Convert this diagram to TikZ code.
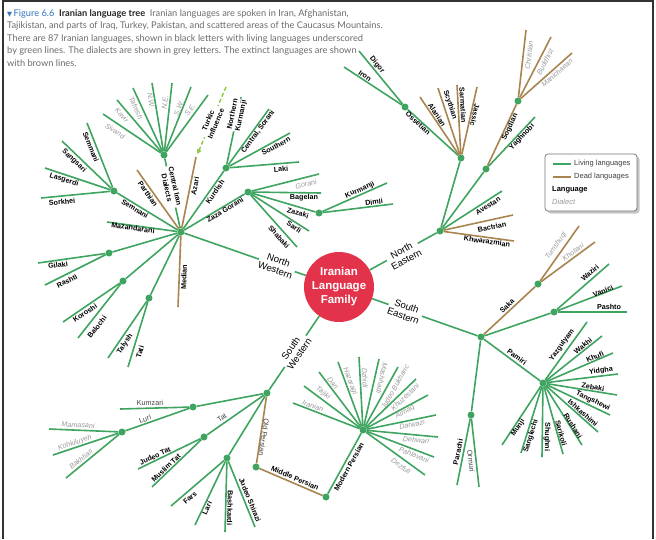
\documentclass[tikz,border=0pt]{standalone}
\usepackage{fontspec}
\setmainfont{Liberation Sans}
\newfontfamily\capfont{Lato}
\newfontfamily\symfont{DejaVu Sans}
\usetikzlibrary{calc,arrows.meta}
\definecolor{lgreen}{HTML}{3FA45F}
\definecolor{dbrown}{HTML}{A8844F}
\definecolor{irred}{HTML}{E3334B}
\definecolor{tkgreen}{HTML}{8DC63F}
\definecolor{dialgrey}{HTML}{9A9A9A}
\definecolor{capgrey}{HTML}{6B6B6B}
\definecolor{capblue}{HTML}{3474B8}
\newcommand\lbl[5]{\path let \p1=($(#3)-(#2)$), \n1={atan2(\y1,\x1)}, \n2={ifthenelse(\n1>90,\n1-180,ifthenelse(\n1<-90,\n1+180,\n1))} in node[#1,rotate=\n2] (L#3) at (#4) {#5};}
\newcommand\leaf[7]{\coordinate (#3) at (#4); \draw[#1] (#2) -- (#3); \lbl{#6}{#2}{#3}{#5}{#7}}
\begin{document}
\begin{tikzpicture}[x=1pt,y=-1pt,
 live/.style={draw=lgreen,line width=1.6pt},
 dead/.style={draw=dbrown,line width=1.6pt},
 hub/.style={circle,fill=lgreen,inner sep=0pt,minimum size=7pt},
 lang/.style={font=\fontsize{7.2}{8.4}\selectfont\bfseries,text=black,inner sep=0.6pt,align=center},
 dial/.style={font=\fontsize{7.2}{8.4}\selectfont\itshape,text=dialgrey,inner sep=0.6pt},
 semi/.style={font=\fontsize{7.2}{8.4}\selectfont,text=black!75,inner sep=0.6pt},
 onl/.style={fill=white,inner sep=1pt},
 mainlbl/.style={font=\fontsize{9.6}{10.4}\selectfont,fill=white,inner sep=1pt,align=center},
 turnover/.style={rotate=180},
 legtxt/.style={font=\fontsize{7.5}{8.4}\selectfont,text=black!75,anchor=west,inner sep=0pt}]
\useasboundingbox (0,0) rectangle (656,539);
\draw[black!80,line width=1.4pt] (3,539) -- (3,1) -- (653,1) -- (653,539);
% caption
\node[anchor=north west,inner sep=0pt,align=left,text=capgrey,font=\capfont\fontsize{9.25}{12.4}\selectfont] (caption) at (7,9.5) {%
{\color{capblue}{\symfont\fontsize{6.5}{6.5}\selectfont ▼}\,Figure 6.6}\enspace{\bfseries\color{black!85}Iranian language tree}\enspace Iranian languages are spoken in Iran, Afghanistan,\\
Tajikistan, and parts of Iraq, Turkey, Pakistan, and scattered areas of the Caucasus Mountains.\\
There are 87 Iranian languages, shown in black letters with living languages underscored\\
by green lines. The dialects are shown in grey letters. The extinct languages are shown\\
with brown lines.};
% centre
\node[circle,fill=irred,minimum size=70pt,inner sep=0pt,text=white,align=center,font=\fontsize{11.5}{14}\selectfont\bfseries] (fam) at (339,287) {Iranian\\Language\\Family};
% hubs
\node[hub] (NW) at (181,232) {};
\node[hub] (CID) at (164,155) {};
\node[hub] (SEM) at (114,191) {};
\node[hub] (KUR) at (226,168) {};
\node[hub] (ZG) at (248,192) {};
\node[hub] (ZAZ) at (319,213) {};
\node[hub] (GIL) at (109,253) {};
\node[hub] (KOR) at (123,281) {};
\node[hub] (TAL) at (149,298) {};
\node[hub] (NE) at (440,231) {};
\node[hub] (OSH) at (461,158) {};
\node[hub] (OSS) at (405,107) {};
\node[hub] (YAG) at (486,169) {};
\node[hub] (SOG) at (518,101) {};
\node[hub] (SE) at (481,337) {};
\node[hub] (SAK) at (538,284) {};
\node[hub] (PAS) at (554,312) {};
\node[hub] (PAM) at (543,383) {};
\node[hub] (PAR) at (471,415) {};
\node[hub] (SW) at (267,393) {};
\node[hub] (KUM) at (193,407) {};
\node[hub] (LUR) at (122,432) {};
\node[hub] (TAT) at (204,437) {};
\node[hub] (FAR) at (227,458) {};
\node[hub] (MID) at (256,467) {};
\node[hub] (MOD) at (326,497) {};
\node[hub] (MPH) at (363,430) {};
% main branches
\draw[live] (fam) -- (NW); \lbl{mainlbl}{fam}{NW}{277,265}{North\\Western}
\draw[live] (fam) -- (NE); \lbl{mainlbl}{fam}{NE}{404,255}{North\\Eastern}
\draw[live] (fam) -- (SE); \lbl{mainlbl}{fam}{SE}{405,311}{South\\Eastern}
\draw[live] (fam) -- (SW); \lbl{mainlbl}{fam}{SW}{295,351}{South\\Western}
% ---------- North Western
\draw[live] (NW) -- (CID); \lbl{lang,onl}{NW}{CID}{171,187}{Central Iran\\Dialects}
\draw[live] (NW) -- (SEM); \lbl{lang}{NW}{SEM}{135,209}{Semnani}
\leaf{dead}{NW}{parth}{137,170}{148,194}{lang}{Parthian}
\leaf{dead}{NW}{azari}{196,157}{195,186}{lang}{Azari}
\draw[live] (NW) -- (KUR); \lbl{lang}{NW}{KUR}{215,192}{Kurdish}
\draw[live] (NW) -- (ZG); \lbl{lang}{NW}{ZG}{225,210}{Zaza Gorani}
\leaf{live}{NW}{maz}{107,222}{133,228}{lang}{Mazandarani}
\draw[live] (NW) -- (GIL);
\draw[live] (NW) -- (KOR);
\draw[live] (NW) -- (TAL);
\leaf{dead}{NW}{median}{178,307}{184,277}{lang}{Median}
\coordinate (tka) at (226,87);
\coordinate (tkb) at (197.5,154);
\draw[tkgreen,line width=1.4pt,dash pattern=on 4pt off 2.5pt,-{Triangle[length=4.5pt,width=4.5pt]}] (tka) -- (tkb);
\lbl{lang,onl}{tka}{tkb}{212,122}{Turkic\\Influence}
% central iran dialects
\leaf{live}{CID}{sivand}{103,114}{115,131}{dial}{Sivand}
\leaf{live}{CID}{kavir}{117,100}{122,115}{dial}{Kavir}
\leaf{live}{CID}{tafresh}{133,88}{136,108}{dial}{Tafresh}
\leaf{live}{CID}{dnw}{152,83}{151,101}{dial}{N.W.}
\leaf{live}{CID}{dne}{172,83}{165,102}{dial}{N.E.}
\leaf{live}{CID}{dsw}{191,87}{179,108}{dial}{S.W.}
\leaf{live}{CID}{dse}{208,95}{190,110}{dial}{S.E.}
% semnani
\leaf{live}{SEM}{sorkhei}{41,198}{62,202}{lang}{Sorkhei}
\leaf{live}{SEM}{lasgerdi}{45,168}{64,180}{lang}{Lasgerdi}
\leaf{live}{SEM}{sangsari}{62,141}{74,161}{lang}{Sangsari}
\leaf{live}{SEM}{semmani}{87,123}{91,147}{lang}{Semmani}
% kurdish
\leaf{live}{KUR}{nkur}{241,97}{237,115}{lang,onl}{Northern\\Kurmanji}
\leaf{live}{KUR}{csor}{269,109}{258,132}{lang}{Central, Sorani}
\leaf{live}{KUR}{south}{290,133}{276,146}{lang}{Southern}
\leaf{live}{KUR}{laki}{299,162}{281,169}{lang}{Laki}
% zaza gorani
\leaf{live}{ZG}{gorani}{319,174}{306,184}{dial}{Gorani}
\leaf{live}{ZG}{bagelan}{321,193}{304,198}{lang}{Bagelan}
\draw[live] (ZG) -- (ZAZ); \lbl{lang}{ZG}{ZAZ}{298,213}{Zazaki}
\leaf{live}{ZG}{sarli}{309,231}{294,227}{lang}{Sarli}
\leaf{live}{ZG}{shabaki}{297,247}{279,237}{lang}{Shabaki}
\leaf{live}{ZAZ}{kurm}{387,183}{360,190}{lang}{Kurmanji}
\leaf{live}{ZAZ}{dimli}{393,204}{374,202}{lang}{Dimli}
% caspian etc
\leaf{live}{GIL}{gilaki}{38,263}{58,265}{lang}{Gilaki}
\leaf{live}{GIL}{rashti}{45,285}{67,281}{lang}{Rashti}
\leaf{live}{KOR}{koroshi}{63,322}{85,313}{lang}{Koroshi}
\leaf{live}{KOR}{balochi}{78,338}{97,327}{lang}{Balochi}
\leaf{live}{TAL}{talysh}{108,358}{125,344}{lang}{Talysh}
\leaf{live}{TAL}{tati}{128,367}{140,352}{lang}{Tati}
% ---------- North Eastern
\draw[live] (NE) -- (OSH);
\draw[live] (OSH) -- (OSS); \lbl{lang}{OSH}{OSS}{418,123}{Ossetian}
\leaf{live}{OSS}{digor}{359,51}{377,65}{lang}{Digor}
\leaf{live}{OSS}{iron}{344,67}{365,76}{lang}{Iron}
\leaf{dead}{OSH}{alanian}{420,97}{437,115}{lang}{Alanian}
\leaf{dead}{OSH}{scythian}{438,88}{450,105}{lang}{Scythian}
\leaf{dead}{OSH}{sarmatian}{457,85}{463,105}{lang}{Sarmatian}
\leaf{dead}{OSH}{jassic}{477,87}{475,115}{lang,turnover}{Jassic}
\draw[live] (NE) -- (YAG);
\leaf{live}{YAG}{yaghnobi}{535,117}{522,137}{lang}{Yaghnobi}
\draw[dead] (YAG) -- (SOG); \lbl{lang}{YAG}{SOG}{510,127}{Sogdian}
\leaf{dead}{SOG}{christian}{526,30}{529,55}{dial}{Christian}
\leaf{dead}{SOG}{buddhist}{551,37}{545,62}{dial}{Buddhist}
\leaf{dead}{SOG}{manich}{572,53}{557,73}{dial}{Manichaean}
\leaf{live}{NE}{avestan}{502,191}{488,206}{lang}{Avestan}
\leaf{dead}{NE}{bactrian}{513,215}{492,227}{lang}{Bactrian}
\leaf{dead}{NE}{khwar}{514,241}{487,241.5}{lang}{Khwarazmian}
% ---------- South Eastern
\draw[dead] (SE) -- (SAK); \lbl{lang}{SE}{SAK}{507,306}{Saka}
\leaf{dead}{SAK}{tumshuqi}{579,226}{556,246}{dial}{Tumshuqi}
\leaf{dead}{SAK}{khotani}{595,242}{573,252}{dial}{Khotani}
\draw[live] (SE) -- (PAS);
\leaf{live}{PAS}{waziri}{609,264}{590,273}{lang}{Waziri}
\leaf{live}{PAS}{vanici}{622,286}{603,291}{lang}{Vanici}
\leaf{live}{PAS}{pashto}{627,312}{609,307}{lang}{Pashto}
\draw[live] (SE) -- (PAM); \lbl{lang}{SE}{PAM}{517,357}{Pamiri}
\leaf{live}{PAM}{yazg}{587,322}{562,345}{lang}{Yazgulyam}
\leaf{live}{PAM}{wakhi}{602,336}{583,346}{lang}{Wakhi}
\leaf{live}{PAM}{khufi}{613,353}{595,357}{lang}{Khufi}
\leaf{live}{PAM}{yidgha}{618,374}{601,371}{lang}{Yidgha}
\leaf{live}{PAM}{zebaki}{617,395}{593,387}{lang}{Zebaki}
\leaf{live}{PAM}{tangshewi}{610,415}{593,401}{lang}{Tangshewi}
\leaf{live}{PAM}{ishk}{598,432}{583,413}{lang}{Ishkashimi}
\leaf{live}{PAM}{rushani}{582,445}{573,426}{lang}{Rushani}
\leaf{live}{PAM}{sarikoli}{563,454}{561,433}{lang}{Sarikoli}
\leaf{live}{PAM}{shughni}{542,457}{547,437}{lang,turnover}{Shughni}
\leaf{live}{PAM}{sanglechi}{521,453}{531,436}{lang}{Sanglechi}
\leaf{live}{PAM}{munji}{502,445}{518,428}{lang}{Munji}
\draw[live] (SE) -- (PAR);
\leaf{live}{PAR}{parachi}{457,485}{458,452}{lang}{Parachi}
\leaf{live}{PAR}{ormuri}{479,487}{471,461}{semi}{Ormuri}
% ---------- South Western
\draw[live] (SW) -- (KUM);
\leaf{live}{KUM}{kumzari}{120,409}{150,403}{semi}{Kumzari}
\draw[live] (KUM) -- (LUR); \lbl{semi}{KUM}{LUR}{145,419}{Luri}
\leaf{live}{LUR}{mamasani}{49,429}{78,425}{dial}{Mamasani}
\leaf{live}{LUR}{kohk}{53,455}{75,443}{dial}{Kohkiluyeh}
\leaf{live}{LUR}{bakht}{66,478}{81,459}{dial}{Bakhtiari}
\draw[live] (SW) -- (TAT); \lbl{semi}{SW}{TAT}{222,418}{Tat}
\leaf{live}{TAT}{jtat}{138,469}{155,456}{lang}{Judeo Tat}
\leaf{live}{TAT}{mtat}{152,487}{166,468}{lang}{Muslim Tat}
\draw[live] (SW) -- (FAR);
\leaf{live}{FAR}{fars}{171,506}{190,498}{lang}{Fars}
\leaf{live}{FAR}{lari}{195,525}{207,508}{lang}{Lari}
\leaf{live}{FAR}{bashk}{225,532}{230,508}{lang,turnover}{Bashkardi}
\leaf{live}{FAR}{jshir}{255,527}{250,500}{lang}{Judeo Shirazi}
\draw[dead] (SW) -- (MID); \lbl{semi,turnover}{SW}{MID}{264,437}{Old Persian}
\draw[dead] (MID) -- (MOD); \lbl{lang}{MID}{MOD}{295,478}{Middle Persian}
\draw[live] (MOD) -- (MPH); \lbl{lang}{MOD}{MPH}{349,467}{Modern Persian}
\leaf{live}{MPH}{iranian}{293,403}{313,406}{dial}{Iranian}
\leaf{live}{MPH}{tajiki}{304,386}{323,393}{dial}{Tajiki}
\leaf{live}{MPH}{dari}{319,372}{333,383}{dial}{Dari}
\leaf{live}{MPH}{hazaragi}{338,362}{350,381}{dial}{Hazaragi}
\leaf{live}{MPH}{dzhidi}{359,357}{365,378}{dial}{Dzhidi}
\leaf{live}{MPH}{mashhadi}{379,359}{382,378}{dial,turnover}{Mashhadi}
\leaf{live}{MPH}{jbukh}{398,367}{395,387}{dial}{Judeo Bukharic}
\leaf{live}{MPH}{khuz}{416,379}{405,397}{dial}{Khuzestani}
\leaf{live}{MPH}{aimaq}{428,395}{405,412}{dial}{Aimaq}
\leaf{live}{MPH}{darwazi}{436,415}{412,424.5}{dial}{Darwazi}
\leaf{live}{MPH}{dehwari}{438,437}{416,440}{dial}{Dehwari}
\leaf{live}{MPH}{pahl}{434,457}{414,455}{dial}{Pahlavani}
\leaf{live}{MPH}{dezfuli}{425,475}{401,466}{dial}{Dezfuli}
% ---------- legend
\fill[black!22,rounded corners=3pt] (547.5,156.5) rectangle (639.5,213.5);
\draw[black!55,fill=white,rounded corners=3pt,line width=0.7pt] (545,154) rectangle (637,211);
\coordinate (lga) at (553,164); \coordinate (lgb) at (571,164);
\draw[live] (lga) -- (lgb);
\node[legtxt] (lgt1) at (574,164) {Living languages};
\coordinate (lgc) at (553,177); \coordinate (lgd) at (571,177);
\draw[dead] (lgc) -- (lgd);
\node[legtxt] (lgt2) at (574,177) {Dead languages};
\node[legtxt,font=\fontsize{7.5}{8.4}\selectfont\bfseries,text=black] (lgt3) at (552,190) {Language};
\node[legtxt,font=\fontsize{7.5}{8.4}\selectfont\itshape,text=dialgrey] (lgt4) at (552,202) {Dialect};
\end{tikzpicture}
\end{document}
